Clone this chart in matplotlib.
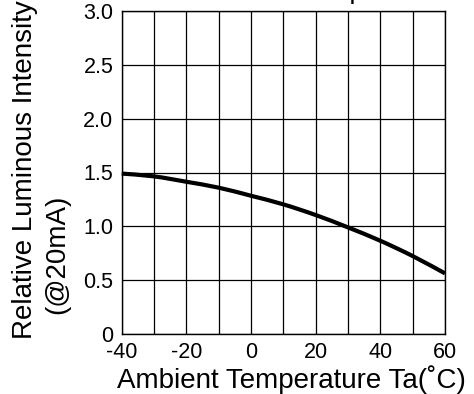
import matplotlib
matplotlib.use("Agg")
import matplotlib.pyplot as plt
from matplotlib.path import Path
from matplotlib.patches import PathPatch
import numpy as np

temps = [-40, -30, -20, -10, 0, 10, 20, 30, 40, 50, 60]
intensity = [1.49, 1.464, 1.414, 1.359, 1.284, 1.204, 1.105, 0.99, 0.866, 0.724, 0.563]
xticks = [-40, -20, 0, 20, 40, 60]
yticks = [0, 0.5, 1.0, 1.5, 2.0, 2.5, 3.0]
ytick_labels = ["0", "0.5", "1.0", "1.5", "2.0", "2.5", "3.0"]
xlabel = "Ambient Temperature Ta(\u02daC)"
ylabel1 = "Relative Luminous Intensity"
ylabel2 = "(@20mA)"

plt.rcParams['font.family'] = ['Liberation Sans', 'DejaVu Sans']

W, H = 474, 394
fig = plt.figure(figsize=(W / 100, H / 100), dpi=100)
L, R, T, B = 121.7, 445, 11, 334
ax = fig.add_axes([L / W, 1 - B / H, (R - L) / W, (B - T) / H])

ax.set_xlim(-40, 60)
ax.set_ylim(0, 3.0)
ax.set_xticks(xticks)
ax.set_xticks(np.arange(-40, 61, 10), minor=True)
ax.set_yticks(yticks)
ax.set_xticklabels([str(t) for t in xticks])
ax.set_yticklabels(ytick_labels)
ax.grid(True, which='both', axis='x', color='black', linewidth=0.9)
ax.grid(True, which='major', axis='y', color='black', linewidth=0.9)
ax.set_axisbelow(True)
ax.tick_params(which='both', length=0, labelsize=15.5, labelcolor='black')
ax.tick_params(axis='x', pad=6)
ax.tick_params(axis='y', pad=6)
for s in ax.spines.values():
    s.set_linewidth(1.0)
    s.set_color('black')

# smooth curve through the data points (Catmull-Rom as cubic Bezier segments)
xs = np.array(temps, float)
ys = np.array(intensity, float)
n = len(xs)
verts = [(xs[0], ys[0])]
codes = [Path.MOVETO]
for i in range(n - 1):
    p0 = np.array([xs[max(i - 1, 0)], ys[max(i - 1, 0)]])
    p1 = np.array([xs[i], ys[i]])
    p2 = np.array([xs[i + 1], ys[i + 1]])
    p3 = np.array([xs[min(i + 2, n - 1)], ys[min(i + 2, n - 1)]])
    c1 = p1 + (p2 - p0) / 6.0
    c2 = p2 - (p3 - p1) / 6.0
    verts += [tuple(c1), tuple(c2), tuple(p2)]
    codes += [Path.CURVE4, Path.CURVE4, Path.CURVE4]
patch = PathPatch(Path(verts, codes), facecolor='none', edgecolor='black',
                  linewidth=3.0, capstyle='butt', clip_on=False)
ax.add_patch(patch)

fig.text(291 / W, 1 - 388 / H, xlabel, fontsize=20, ha='center', va='baseline')
fig.text(25 / W, 1 - 170 / H, ylabel1, fontsize=20, ha='center', va='center', rotation=90)
fig.text(57 / W, 1 - 254 / H, ylabel2, fontsize=20, ha='center', va='center', rotation=90)
fig.text(297 / W, 1 + 1.5 / H, "Temperature", fontsize=20, ha='left', va='baseline')

fig.savefig("out.png", dpi=100)
